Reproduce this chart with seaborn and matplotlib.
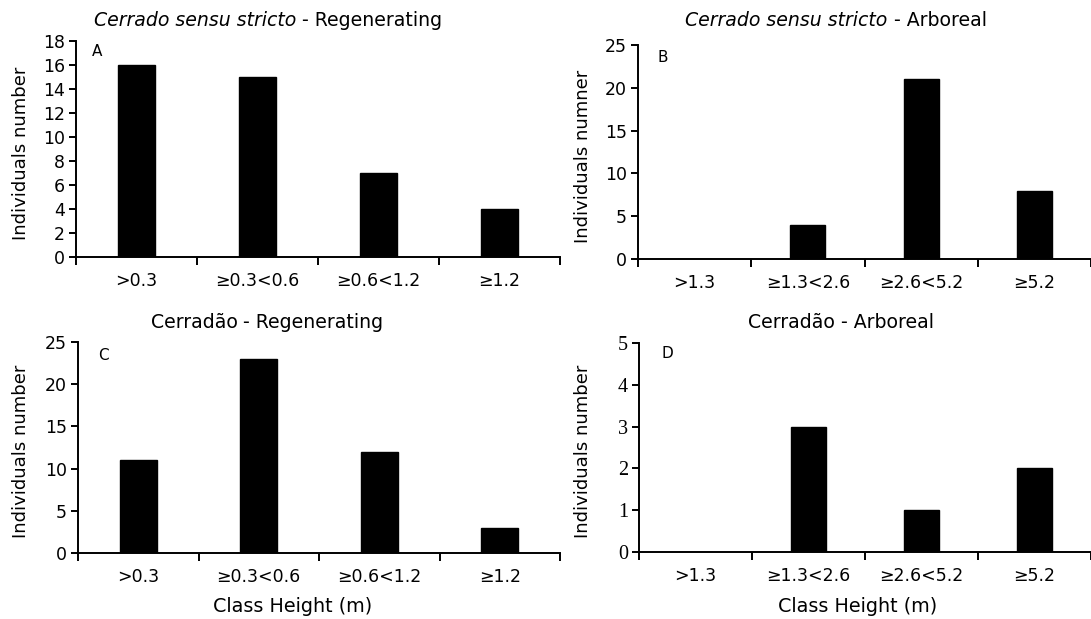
import matplotlib
matplotlib.use("Agg")
import matplotlib.pyplot as plt
import seaborn as sns
import pandas as pd
import numpy as np

# ---- data ----
reg_classes = [">0.3", "≥0.3<0.6", "≥0.6<1.2", "≥1.2"]
arb_classes = [">1.3", "≥1.3<2.6", "≥2.6<5.2", "≥5.2"]
a_values = [16, 15, 7, 4]
b_values = [0, 4, 21, 8]
c_values = [11, 23, 12, 3]
d_values = [0, 3, 1, 2]

titles = [("Cerrado sensu stricto", " - Regenerating"),
          ("Cerrado sensu stricto", " - Arboreal"),
          ("Cerradão", " - Regenerating"),
          ("Cerradão", " - Arboreal")]
letters = ["A", "B", "C", "D"]
ylabels = ["Individuals number", "Individuals numner",
           "Individuals number", "Individuals number"]
xlabel = "Class Height (m)"

sns.set_theme(style="white")
plt.rcParams['font.family'] = ['DejaVu Sans']

W, H = 1091, 619
fig = plt.figure(figsize=(W / 100, H / 100), dpi=100)


def fx(px):
    return px / W


def fy(py):
    return 1 - py / H


# axes boxes in pixels: left, right, top, bottom
boxes = [(76, 560, 41, 257), (638, 1091, 45, 259),
         (78, 560, 342, 553), (639, 1091, 343, 552)]
xlims = [(-0.5, 3.5), (-0.5, -0.5 + 453 / 115.5),
         (-0.5, 3.5), (-0.5, -0.5 + 452 / 115.5)]
ylims = [(0, 18), (0, 25), (0, 25), (0, 5)]
ysteps = [2, 5, 5, 1]
datasets = [(reg_classes, a_values), (arb_classes, b_values),
            (reg_classes, c_values), (arb_classes, d_values)]
title_pos = [(268, 21), (836, 21), (267, 323), (841, 323)]
letter_pos = [(97, 52), (663, 58), (103, 355), (667, 353)]
ylab_x = [30, 592, 30, 592]
TFS = 13.6

for i in range(4):
    l, r, t, b = boxes[i]
    ax = fig.add_axes([fx(l), fy(b), fx(r) - fx(l), fy(t) - fy(b)])
    cats, vals = datasets[i]
    df = pd.DataFrame({"cls": cats, "n": vals})
    sns.barplot(data=df, x="cls", y="n", order=cats, color="black",
                saturation=1, width=0.31, ax=ax, edgecolor="black")
    ax.set_xlim(*xlims[i])
    ax.set_ylim(*ylims[i])
    ax.set_yticks(np.arange(0, ylims[i][1] + 0.01, ysteps[i]))
    for s in ["top", "right"]:
        ax.spines[s].set_visible(False)
    for s in ["left", "bottom"]:
        ax.spines[s].set_color("black")
        ax.spines[s].set_linewidth(1.4)
    ax.set_xticks(np.arange(-0.5, 4.0, 1.0), minor=True)
    ax.tick_params(axis="x", which="major", length=0, pad=11, labelsize=12.5,
                   colors="black")
    ax.tick_params(axis="x", which="minor", length=6, width=1.4,
                   direction="out", colors="black", bottom=True)
    ax.tick_params(axis="y", length=5, width=1.4, direction="out",
                   left=True, labelsize=12.5, colors="black", pad=3)
    if i == 3:
        for lab in ax.get_yticklabels():
            lab.set_family("Liberation Serif")
            lab.set_fontsize(14.5)
    ax.set_xlabel("")
    ax.set_ylabel(ylabels[i], fontsize=13, color="black")
    ax.yaxis.set_label_coords(fx(ylab_x[i]), fy((t + b) / 2 + 4),
                              transform=fig.transFigure)
    ax.grid(False)
    ax.set_facecolor("white")

    # title with italic part
    it, rest = titles[i]
    tx, ty = title_pos[i]
    italic = i < 2
    full_t = fig.text(fx(tx), fy(ty), it + rest, fontsize=TFS,
                      ha="center", va="center", color="black", alpha=0)
    fig.canvas.draw()
    bb = full_t.get_window_extent()
    x0 = bb.x0 / fig.dpi / fig.get_figwidth()
    t1 = fig.text(x0, fy(ty), it, fontsize=TFS, ha="left", va="center",
                  style="italic" if italic else "normal", color="black")
    fig.canvas.draw()
    bb1 = t1.get_window_extent()
    x1 = bb1.x1 / fig.dpi / fig.get_figwidth()
    fig.text(x1, fy(ty), rest, fontsize=TFS, ha="left", va="center",
             color="black")

    lx, ly = letter_pos[i]
    fig.text(fx(lx), fy(ly), letters[i], fontsize=11, ha="center",
             va="center", color="black")

fig.text(fx(293), fy(607), xlabel, fontsize=13.8, ha="center", va="center",
         color="black")
fig.text(fx(858), fy(607), xlabel, fontsize=13.8, ha="center", va="center",
         color="black")

fig.savefig("out.png", dpi=100, facecolor="white")
